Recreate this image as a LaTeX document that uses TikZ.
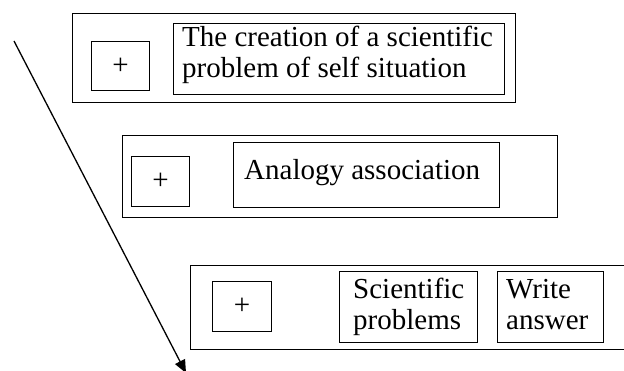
\documentclass[tikz,border=0pt]{standalone}
\usepackage{fontspec}
\setmainfont{Liberation Serif}
\usetikzlibrary{arrows.meta}
\begin{document}
\begin{tikzpicture}[x=1pt,y=-1pt,
  frame/.style={draw, line width=1.3pt, inner sep=0pt, anchor=north west},
  plusbox/.style={frame, font=\fontsize{29}{30}\selectfont},
  txt/.style={inner sep=0pt, anchor=base west, align=left, font=\fontsize{29}{31}\selectfont},
  arr/.style={line width=1.3pt, -{Triangle[length=13pt,width=11pt]}}]
\path[use as bounding box, clip] (0,0) rectangle (624,371);
% row 1
\node[frame, minimum width=443pt, minimum height=89pt] (o1) at (72,13) {};
\node[plusbox, minimum width=58pt, minimum height=49pt] (p1) at (91,41) {+};
\node[frame, minimum width=331pt, minimum height=71pt] (b1) at (173,23) {};
\node[txt] (t1) at (182,78) {The creation of a scientific\\problem of self situation};
% row 2
\node[frame, minimum width=435pt, minimum height=82pt] (o2) at (122,135) {};
\node[plusbox, minimum width=58pt, minimum height=50pt] (p2) at (131,156) {+};
\node[frame, minimum width=266pt, minimum height=65pt] (b2) at (233,142) {};
\node[txt] (t2) at (244,180) {Analogy association};
% row 3
\node[frame, minimum width=460pt, minimum height=84pt] (o3) at (190,265) {};
\node[plusbox, minimum width=59pt, minimum height=50pt] (p3) at (212,281) {+};
\node[frame, minimum width=138pt, minimum height=71pt] (b3) at (339,271) {};
\node[txt] (t3) at (353,330) {Scientific\\problems};
\node[frame, minimum width=106pt, minimum height=71pt] (b4) at (497,271) {};
\node[txt] (t4) at (506,330) {Write\\answer};
% arrow
\coordinate (s) at (14,41);
\coordinate (e) at (186,373);
\draw[arr] (s) -- (e);
\end{tikzpicture}
\end{document}
